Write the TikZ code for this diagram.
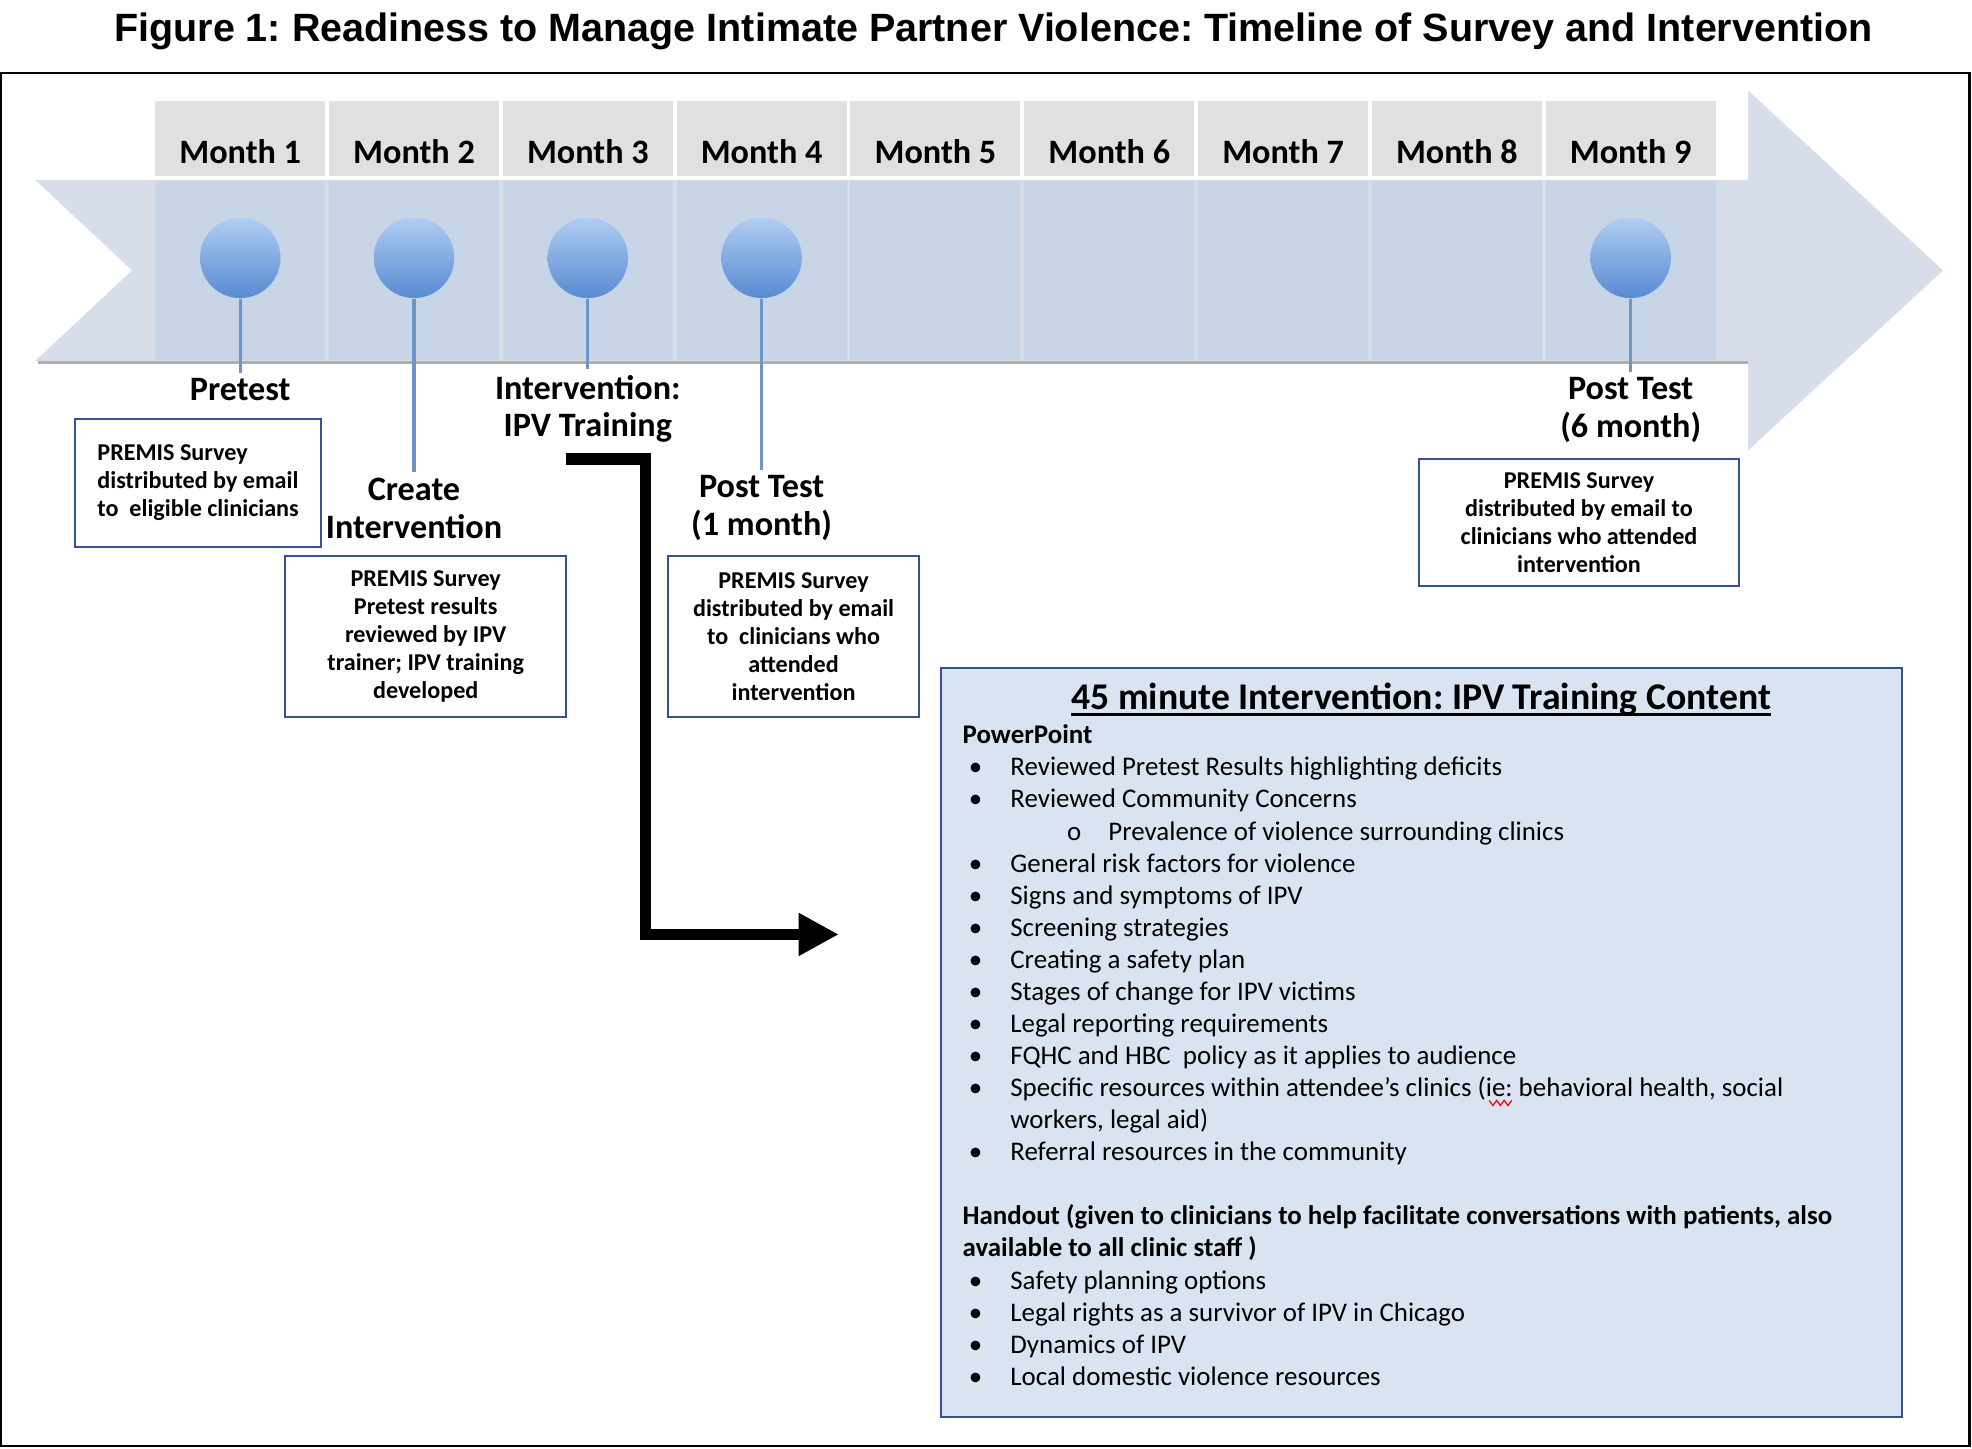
\documentclass[tikz,border=0pt]{standalone}
\usepackage{fontspec}
\setmainfont{Carlito}
\newfontfamily\arialfont{Liberation Sans}
\usepackage{tikz}
\usetikzlibrary{positioning}
\usetikzlibrary{arrows.meta}
\definecolor{headgray}{RGB}{224,224,224}
\definecolor{cellblue}{RGB}{199,213,231}
\definecolor{arrowblue}{RGB}{215,222,234}
\definecolor{stemblue}{RGB}{110,149,200}
\definecolor{boxblue}{RGB}{52,82,145}
\definecolor{contentblue}{RGB}{218,227,242}
\definecolor{balltop}{RGB}{176,205,243}
\definecolor{ballbottom}{RGB}{88,139,210}
\definecolor{shadowgray}{RGB}{175,175,175}

\newcommand{\monthfont}{\bfseries\fontsize{13.6}{15.2}\selectfont}
\newcommand{\eventfont}{\bfseries\fontsize{13.6}{15}\selectfont}
\newcommand{\boxfont}{\bfseries\fontsize{9.6}{11.15}\selectfont}
\newcommand{\listfont}{\fontsize{10.7}{12.75}\selectfont}
\newcommand{\bul}{\makebox[19pt][l]{\hspace{2.5pt}\textbullet}}
\newcommand{\subbul}{\makebox[58pt][l]{\hspace{41.5pt}o}}
\newcommand{\thickul}[1]{\setbox0\hbox{#1}\rlap{\rule[-2.6pt]{\wd0}{1.1pt}}\box0}

\begin{document}
\frenchspacing
\begin{tikzpicture}[
            x = 0.5pt, y = -0.5pt, % pixel grid, y runs down
            > = {Triangle[length=16pt, width=16pt]}, % arrow head style
            node distance = 69.1pt % one month
        ]

        \tikzstyle{month}=[
            fill = headgray,
            minimum width = 67.6pt,
            inner xsep = 0pt,
            inner ysep = 2pt,
            text height = 23pt,
            text depth = 3pt,
            font = \monthfont
        ]
        \tikzstyle{cell}=[fill = cellblue, minimum width = 67.6pt, minimum height = 71pt, inner sep = 0pt]
        \tikzstyle{ball}=[circle, minimum size = 32pt, inner sep = 0pt, top color = balltop, bottom color = ballbottom]
        \tikzstyle{stem}=[draw = stemblue, line width = 1.3pt]
        \tikzstyle{event}=[font = \eventfont, align = center, inner sep = 2pt]
        \tikzstyle{survey}=[draw = boxblue, line width = 0.8pt, fill = white, font = \boxfont, align = center, inner sep = 0pt]

        \useasboundingbox (0,0) rectangle (1568,1152);

        % title and frame
        \node[font = \arialfont\bfseries\fontsize{15.7}{18}\selectfont] (title) at (790,25) {Figure 1: Readiness to Manage Intimate Partner Violence: Timeline of Survey and Intervention};
        \draw[line width = 0.9pt] (1,58) rectangle (1566,1150);

        % timeline arrow
        \fill[arrowblue] (28,143) -- (1390,143) -- (1390,72) -- (1545,215) -- (1390,358) -- (1390,287) -- (28,287) -- (105,215) -- cycle;
        \draw[shadowgray, line width = 1.2pt] (30,288) -- (1390,288);

        % month header
        \node[month] (M1) at (191,110) {Month 1};
        \node[month] (M2) [right of = M1] {Month 2};
        \node[month] (M3) [right of = M2] {Month 3};
        \node[month] (M4) [right of = M3] {Month 4};
        \node[month] (M5) [right of = M4] {Month 5};
        \node[month] (M6) [right of = M5] {Month 6};
        \node[month] (M7) [right of = M6] {Month 7};
        \node[month] (M8) [right of = M7] {Month 8};
        \node[month] (M9) [right of = M8] {Month 9};

        % month cells
        \node[cell] (C1) [below of = M1, node distance = 52.5pt] {};
        \node[cell] (C2) [right of = C1] {};
        \node[cell] (C3) [right of = C2] {};
        \node[cell] (C4) [right of = C3] {};
        \node[cell] (C5) [right of = C4] {};
        \node[cell] (C6) [right of = C5] {};
        \node[cell] (C7) [right of = C6] {};
        \node[cell] (C8) [right of = C7] {};
        \node[cell] (C9) [right of = C8] {};

        % milestones
        \node[ball] (P1) [below of = M1, node distance = 47.5pt] {};
        \node[ball] (P2) [below of = M2, node distance = 47.5pt] {};
        \node[ball] (P3) [below of = M3, node distance = 47.5pt] {};
        \node[ball] (P4) [below of = M4, node distance = 47.5pt] {};
        \node[ball] (P9) [below of = M9, node distance = 47.5pt] {};

        \node[event] (Lpre) [below of = P1, node distance = 52.5pt] {Pretest};
        \node[event] (Lcre) [below of = P2, node distance = 99.5pt] {Create\\Intervention};
        \node[event] (Lint) [below of = P3, node distance = 60pt] {Intervention:\\IPV Training};
        \node[event] (Lpt1) [below of = P4, node distance = 99.5pt] {Post Test\\(1 month)};
        \node[event] (Lpt6) [below of = P9, node distance = 60.5pt] {Post Test\\(6 month)};

        \path[stem] (P1) -- (Lpre);
        \path[stem] (P2) -- (Lcre);
        \path[stem] (P3) -- (Lint);
        \path[stem] (P4) -- (Lpt1);
        \path[stem] (P9) -- (Lpt6);

        % survey boxes
        \node[survey, align = left, minimum width = 97.5pt, minimum height = 51pt] (SA) at (157.5,384)
            {PREMIS Survey\\distributed by email\\to\ \ eligible clinicians};
        \node[survey, minimum width = 111.5pt, minimum height = 64pt] (SB) at (338.5,506)
            {PREMIS Survey\\Pretest results\\reviewed by IPV\\trainer; IPV training\\developed};
        \node[survey, minimum width = 100pt, minimum height = 64pt] (SC) at (631,506)
            {PREMIS Survey\\distributed by email\\to\ \ clinicians who\\attended\\intervention};
        \node[survey, minimum width = 127.5pt, minimum height = 50.5pt] (SD) at (1255.5,415.5)
            {PREMIS Survey\\distributed by email to\\clinicians who attended\\intervention};

        % training content
        \node[draw = boxblue, line width = 0.8pt, fill = contentblue, minimum width = 382pt, minimum height = 298pt] (cbox) at (1130,829) {};
        \node[font = \bfseries\fontsize{15}{18}\selectfont] (ctitle) at (1130,556) {\thickul{45 minute Intervention: IPV Training Content}};
        \node[font = \listfont, align = left, inner sep = 0pt, anchor = north west] (clist) at (765,576) {%
            \textbf{PowerPoint}\\
            \bul Reviewed Pretest Results highlighting deficits\\
            \bul Reviewed Community Concerns\\
            \subbul Prevalence of violence surrounding clinics\\
            \bul General risk factors for violence\\
            \bul Signs and symptoms of IPV\\
            \bul Screening strategies\\
            \bul Creating a safety plan\\
            \bul Stages of change for IPV victims\\
            \bul Legal reporting requirements\\
            \bul FQHC and HBC\ \ policy as it applies to audience\\
            \bul Specific resources within attendee’s clinics (ie: behavioral health, social\\
            \hspace*{19pt}workers, legal aid)\\
            \bul Referral resources in the community\\[12.75pt]
            \textbf{Handout (given to clinicians to help facilitate conversations with patients, also}\\
            \textbf{available to all clinic staff )}\\
            \bul Safety planning options\\
            \bul Legal rights as a survivor of IPV in Chicago\\
            \bul Dynamics of IPV\\
            \bul Local domestic violence resources};
        % spelling mark under ie
        \draw[red, line width = 0.5pt] (1184,875) -- (1187,879) -- (1190,875) -- (1193,879) -- (1196,875) -- (1199,879) -- (1202,875);

        % link from training to content
        \coordinate (astart) at (450,365);
        \coordinate (aturn) at (513,743);
        \coordinate (aend) at (667,743);
        \draw[->, line width = 4.5pt] (astart) -| (aturn) -- (aend);

\end{tikzpicture}
\end{document}
